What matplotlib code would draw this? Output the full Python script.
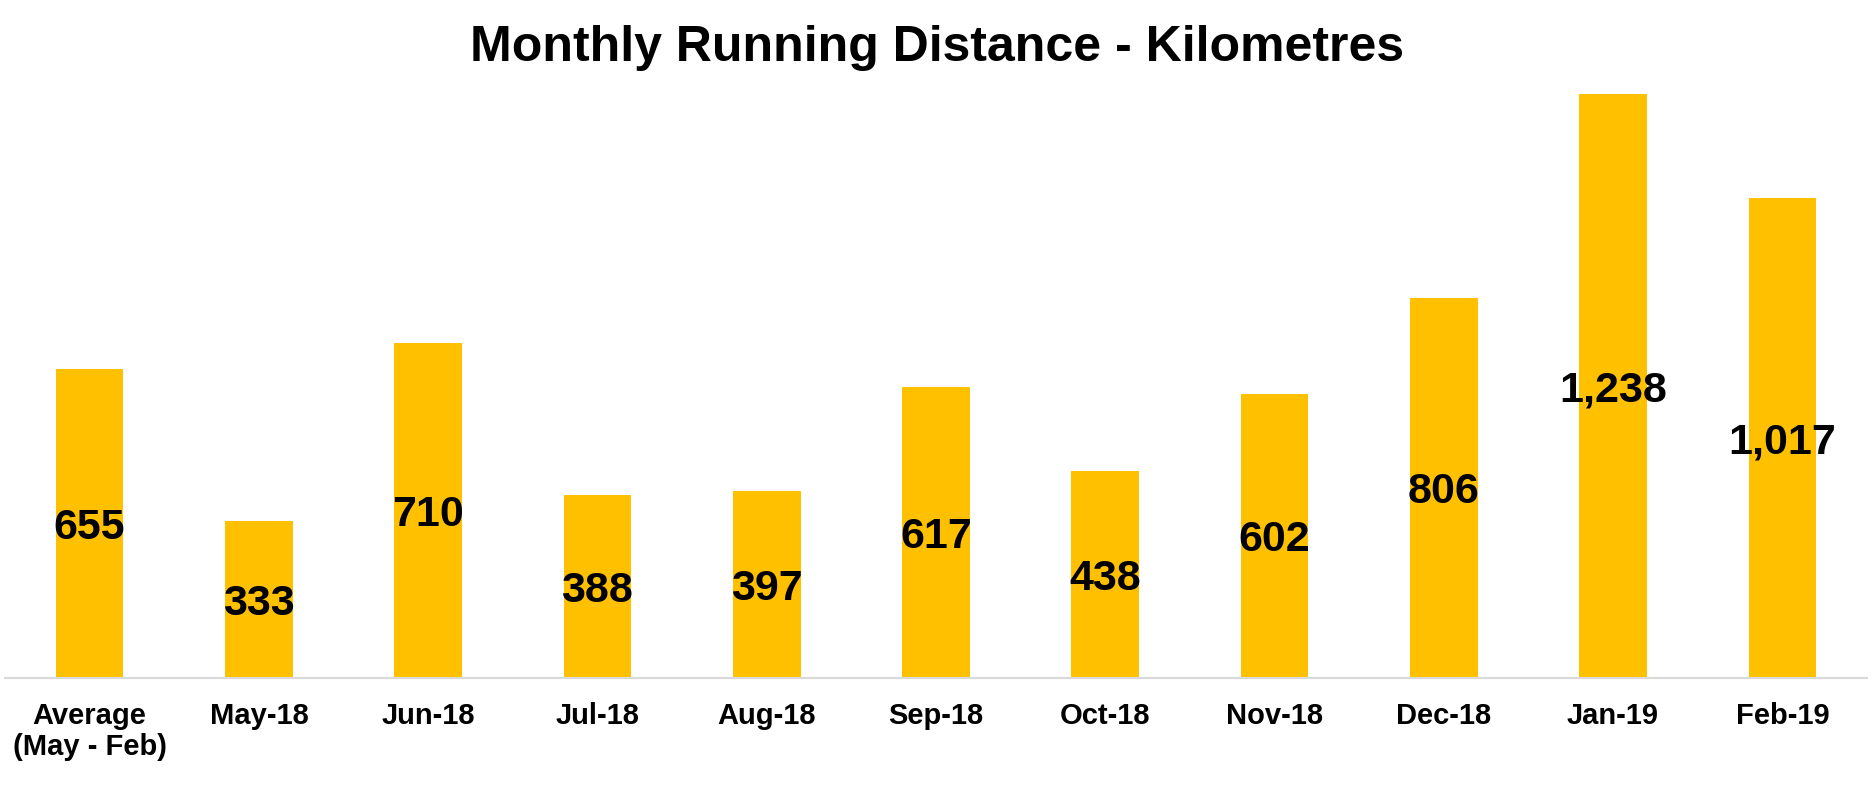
import numpy as np
import matplotlib.pyplot as plt

# data
months = ['Average\n(May - Feb)', 'May-18', 'Jun-18', 'Jul-18', 'Aug-18', 'Sep-18',
          'Oct-18', 'Nov-18', 'Dec-18', 'Jan-19', 'Feb-19']
distance_km = [655, 333, 710, 388, 397, 617, 438, 602, 806, 1238, 1017]

bar_colour = '#FFC000'

plt.rcParams['font.family'] = ['Liberation Sans', 'DejaVu Sans']

fig = plt.figure(figsize=(18.73, 7.90), dpi=100)
ax = fig.add_axes([5 / 1873, 0.1418, 1862 / 1873, 0.924 - 0.1418])

x = np.arange(len(months))
bars = ax.bar(x, distance_km, width=0.40, color=bar_colour)

# value labels in the middle of each bar
for b, v in zip(bars, distance_km):
    ax.text(b.get_x() + b.get_width() / 2, v / 2, f'{v:,}',
            ha='center', va='center_baseline', fontsize=31, fontweight='bold', color='black')

ax.set_xlim(-0.5, len(months) - 0.5)
ax.set_ylim(0, 1310)
ax.set_xticks(x)
ax.set_xticklabels(months, fontsize=21, fontweight='bold', linespacing=1.15)
ax.tick_params(axis='x', length=0, pad=17)
ax.set_yticks([])

for side in ['top', 'right', 'left']:
    ax.spines[side].set_visible(False)
ax.spines['bottom'].set_color('#D9D9D9')
ax.spines['bottom'].set_linewidth(1.5)

fig.text(0.5, 1 - 48 / 790, 'Monthly Running Distance - Kilometres',
         ha='center', va='center', fontsize=36, fontweight='bold')

fig.savefig('out.png', dpi=100, facecolor='white')
